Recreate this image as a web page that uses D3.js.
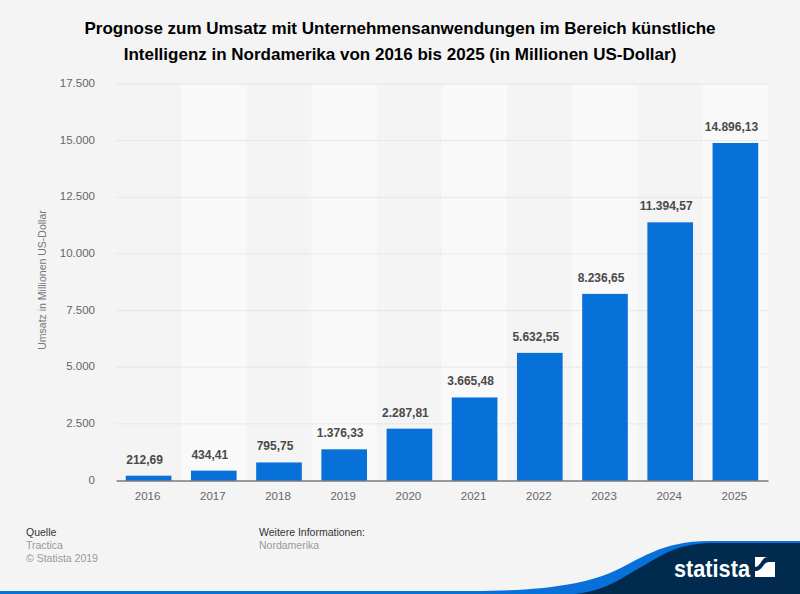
<!DOCTYPE html>
<html lang="de">
<head>
  <meta charset="UTF-8">
  <title>Umsatz Unternehmensanwendungen KI Nordamerika</title>
  <script src="https://cdnjs.cloudflare.com/ajax/libs/d3/7.8.5/d3.min.js"></script>
  <style>
    html, body { margin: 0; padding: 0; background: #f4f4f4; }
    svg { display: block; font-family: "Liberation Sans", Arial, sans-serif; }
  </style>
</head>
<body>
  <svg id="chart" width="800" height="594"></svg>
  <script>
    const years = ["2016", "2017", "2018", "2019", "2020", "2021", "2022", "2023", "2024", "2025"];
    const revenue = [212.69, 434.41, 795.75, 1376.33, 2287.81, 3665.48, 5632.55, 8236.65, 11394.57, 14896.13];
    const revenueLabels = ["212,69", "434,41", "795,75", "1.376,33", "2.287,81", "3.665,48", "5.632,55", "8.236,65", "11.394,57", "14.896,13"];
    const yTicks = [0, 2500, 5000, 7500, 10000, 12500, 15000, 17500];
    const titleLines = [
      "Prognose zum Umsatz mit Unternehmensanwendungen im Bereich künstliche",
      "Intelligenz in Nordamerika von 2016 bis 2025 (in Millionen US-Dollar)"
    ];

    const svg = d3.select("#chart");
    const x = d3.scaleBand().domain(years).range([116, 768]).paddingInner(0.3).paddingOuter(0.15);
    const band = d3.scaleBand().domain(years).range([116, 768]);
    const y = d3.scaleLinear().domain([0, 17500]).range([480.5, 84]);
    const fmt = d3.formatLocale({ decimal: ",", thousands: ".", grouping: [3], currency: ["", ""] }).format(",d");

    svg.append("g").selectAll("text")
      .data(titleLines)
      .enter()
      .append("text")
      .attr("x", 400)
      .attr("y", (d, i) => 34 + i * 26)
      .attr("text-anchor", "middle")
      .attr("font-size", 17)
      .attr("font-weight", "bold")
      .attr("fill", "#000")
      .text(d => d);

    // lighter stripes behind every second year
    svg.append("g").selectAll("rect")
      .data(years.filter((d, i) => i % 2 === 1))
      .enter()
      .append("rect")
      .attr("x", d => band(d))
      .attr("y", y(17500))
      .attr("width", band.bandwidth())
      .attr("height", y(0) - y(17500))
      .attr("fill", "#f9f9f9");

    const yAxis = d3.axisLeft(y).tickValues(yTicks).tickFormat(fmt).tickSize(0).tickPadding(21);
    const gy = svg.append("g").attr("transform", "translate(116,-1)").call(yAxis);
    gy.select(".domain").remove();
    gy.selectAll("text").attr("font-size", 11.5).attr("font-family", "inherit").attr("fill", "#666");

    svg.append("g").selectAll("line")
      .data(yTicks.filter(d => d > 0))
      .enter()
      .append("line")
      .attr("x1", 116)
      .attr("x2", 768)
      .attr("y1", d => y(d))
      .attr("y2", d => y(d))
      .attr("stroke", "#d8d8d8")
      .attr("stroke-dasharray", "1 1");

    svg.append("g").selectAll("rect")
      .data(revenue)
      .enter()
      .append("rect")
      .attr("x", (d, i) => x(years[i]))
      .attr("y", d => y(d))
      .attr("width", x.bandwidth())
      .attr("height", d => y(0) - y(d))
      .attr("fill", "#0770d9");

    // value labels sit a little left of the bar centre in the original
    svg.append("g").selectAll("text")
      .data(revenue)
      .enter()
      .append("text")
      .attr("x", (d, i) => x(years[i]) + x.bandwidth() / 2 - 4)
      .attr("y", d => y(d) - 12)
      .attr("text-anchor", "middle")
      .attr("font-size", 12)
      .attr("font-weight", "bold")
      .attr("fill", "#4a4a4a")
      .text((d, i) => revenueLabels[i]);

    const xAxis = d3.axisBottom(x).tickSize(0).tickPadding(11);
    const gx = svg.append("g").attr("transform", `translate(0,${y(0)})`).call(xAxis);
    gx.select(".domain").attr("stroke", "#3c3c3c").attr("stroke-width", 1);
    gx.selectAll("text").attr("font-size", 11.5).attr("font-family", "inherit").attr("fill", "#666").attr("dx", -1);

    svg.append("text")
      .attr("transform", "translate(46,280) rotate(-90)")
      .attr("text-anchor", "middle")
      .attr("font-size", 10.5)
      .attr("fill", "#777")
      .text("Umsatz in Millionen US-Dollar");

    const footer = svg.append("g").attr("font-size", 10.5);
    footer.append("text").attr("x", 26).attr("y", 536).attr("fill", "#333").text("Quelle");
    footer.append("text").attr("x", 26).attr("y", 549).attr("fill", "#999").text("Tractica");
    footer.append("text").attr("x", 26).attr("y", 562).attr("fill", "#999").text("© Statista 2019");
    footer.append("text").attr("x", 259).attr("y", 536).attr("fill", "#333").text("Weitere Informationen:");
    footer.append("text").attr("x", 259).attr("y", 549).attr("fill", "#999").text("Nordamerika");

    // footer swoosh
    svg.append("path")
      .attr("d", "M0,591 L470,591 C540,591 580,585 610,573 C640,560 660,541 710,541 L800,541 L800,594 L0,594 Z")
      .attr("fill", "#0770d9");
    svg.append("path")
      .attr("d", "M575,594 C610,590 625,575 645,565 C665,553 680,543 715,543 L800,543 L800,594 Z")
      .attr("fill", "#002b4f");

    svg.append("text")
      .attr("x", 674)
      .attr("y", 577)
      .attr("font-size", 24)
      .attr("font-weight", "bold")
      .attr("fill", "#fff")
      .attr("textLength", 76)
      .attr("lengthAdjust", "spacingAndGlyphs")
      .text("statista");
    const logo = svg.append("g").attr("transform", "translate(755,557)");
    logo.append("rect").attr("width", 20).attr("height", 20).attr("fill", "#fff");
    logo.append("path")
      .attr("d", "M0,14 C8,14 8,5 14,5 L20,5 L20,0 L13,0 C6,0 6,10 0,10 Z")
      .attr("fill", "#002b4f");
  </script>
</body>
</html>
